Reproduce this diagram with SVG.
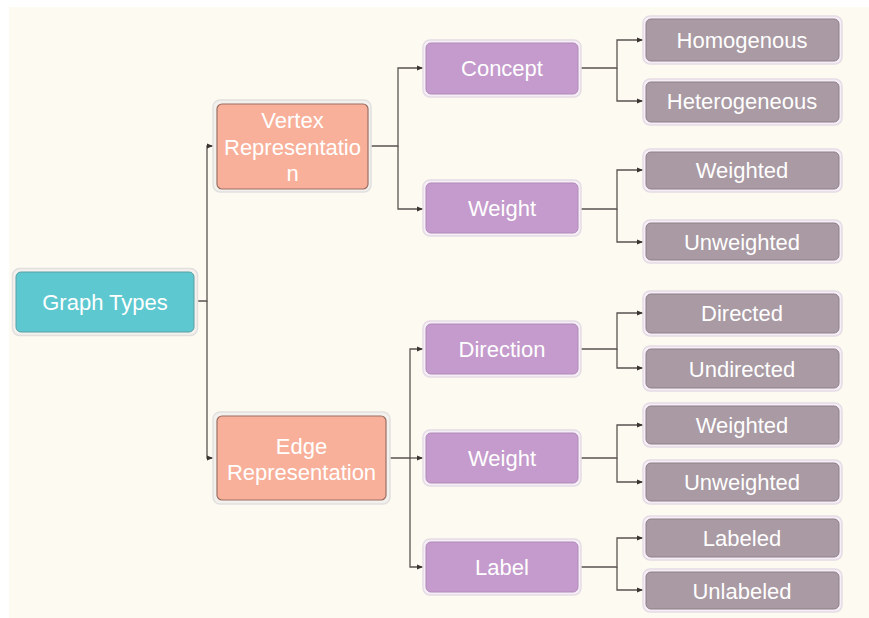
<svg xmlns="http://www.w3.org/2000/svg" width="869" height="618" viewBox="0 0 869 618">
<defs>
<style>
.halo{fill:#f3f1ee;stroke:#e2dfdf;stroke-width:1.5}
.haloP{fill:#f6eef6;stroke:#e6dce6;stroke-width:1.5}
.root{fill:#5dc8d0;stroke:#5a9fa4;stroke-width:1}
.l1{fill:#f8b09a;stroke:#9b6e62;stroke-width:1.2}
.l2{fill:#c49bcc;stroke:#b08ab8;stroke-width:1}
.l3{fill:#a99aa3;stroke:#8e7f88;stroke-width:1}
.t{font-family:"Liberation Sans",Arial,sans-serif;font-size:22px;fill:#ffffff;text-anchor:middle}
.c{fill:none;stroke:#5a5350;stroke-width:1.3}
</style>
<marker id="ah" viewBox="0 0 10 10" refX="10" refY="5" markerWidth="6" markerHeight="6" orient="auto" markerUnits="userSpaceOnUse">
<path d="M0,1 L10,5 L0,9 Z" fill="#3a3330"/>
</marker>
</defs>
<rect x="0" y="0" width="869" height="618" fill="#ffffff"/>
<rect x="9" y="7" width="860" height="611" fill="#fdfbf1"/>

<g id="connectors">
<path class="c" d="M194,301 H207 V146 H213" marker-end="url(#ah)"/>
<path class="c" d="M207,301 V458 H213" marker-end="url(#ah)"/>
<path class="c" d="M368,146 H398 V68 H423" marker-end="url(#ah)"/>
<path class="c" d="M398,146 V209 H423" marker-end="url(#ah)"/>
<path class="c" d="M578,68 H617 V40 H643" marker-end="url(#ah)"/>
<path class="c" d="M617,68 V101 H643" marker-end="url(#ah)"/>
<path class="c" d="M578,209 H617 V170 H643" marker-end="url(#ah)"/>
<path class="c" d="M617,209 V242 H643" marker-end="url(#ah)"/>
<path class="c" d="M386,458 H410 V349 H423" marker-end="url(#ah)"/>
<path class="c" d="M410,458 H423" marker-end="url(#ah)"/>
<path class="c" d="M410,458 V567 H423" marker-end="url(#ah)"/>
<path class="c" d="M578,349 H617 V313 H643" marker-end="url(#ah)"/>
<path class="c" d="M617,349 V368 H643" marker-end="url(#ah)"/>
<path class="c" d="M578,458 H617 V425 H643" marker-end="url(#ah)"/>
<path class="c" d="M617,458 V482 H643" marker-end="url(#ah)"/>
<path class="c" d="M578,567 H617 V538 H643" marker-end="url(#ah)"/>
<path class="c" d="M617,567 V590 H643" marker-end="url(#ah)"/>
</g>

<g id="graph-types">
<rect class="halo" x="12.5" y="268.5" width="185" height="67" rx="7"/>
<rect class="root" x="16" y="272" width="178" height="60" rx="5"/>
<text class="t" x="105" y="310">Graph Types</text>
</g>

<g id="vertex-representation">
<rect class="halo" x="213" y="100" width="158" height="92" rx="7"/>
<rect class="l1" x="217" y="104" width="151" height="85" rx="5"/>
<text class="t" x="292.5" y="128">Vertex</text>
<text class="t" x="292.5" y="155">Representatio</text>
<text class="t" x="292.5" y="181">n</text>
</g>

<g id="edge-representation">
<rect class="halo" x="213" y="412" width="177" height="92" rx="7"/>
<rect class="l1" x="217" y="416" width="169" height="84" rx="5"/>
<text class="t" x="301.5" y="454">Edge</text>
<text class="t" x="301.5" y="480">Representation</text>
</g>

<g id="concept">
<rect class="haloP" x="423" y="40" width="158" height="57" rx="7"/>
<rect class="l2" x="426" y="43" width="152" height="51" rx="5"/>
<text class="t" x="502" y="76">Concept</text>
</g>

<g id="vertex-weight">
<rect class="haloP" x="423" y="180" width="158" height="56" rx="7"/>
<rect class="l2" x="426" y="183" width="152" height="50" rx="5"/>
<text class="t" x="502" y="216">Weight</text>
</g>

<g id="direction">
<rect class="haloP" x="423" y="321" width="158" height="56" rx="7"/>
<rect class="l2" x="426" y="324" width="152" height="50" rx="5"/>
<text class="t" x="502" y="357">Direction</text>
</g>

<g id="edge-weight">
<rect class="haloP" x="423" y="430" width="158" height="56" rx="7"/>
<rect class="l2" x="426" y="433" width="152" height="50" rx="5"/>
<text class="t" x="502" y="466">Weight</text>
</g>

<g id="label">
<rect class="haloP" x="423" y="539" width="158" height="56" rx="7"/>
<rect class="l2" x="426" y="542" width="152" height="50" rx="5"/>
<text class="t" x="502" y="575">Label</text>
</g>

<g id="homogenous">
<rect class="haloP" x="643" y="16" width="199" height="48" rx="7"/>
<rect class="l3" x="646" y="19" width="193" height="42" rx="5"/>
<text class="t" x="742" y="48">Homogenous</text>
</g>

<g id="heterogeneous">
<rect class="haloP" x="643" y="79" width="199" height="46" rx="7"/>
<rect class="l3" x="646" y="82" width="193" height="40" rx="5"/>
<text class="t" x="742" y="109">Heterogeneous</text>
</g>

<g id="vertex-weighted">
<rect class="haloP" x="643" y="149" width="199" height="43" rx="7"/>
<rect class="l3" x="646" y="152" width="193" height="37" rx="5"/>
<text class="t" x="742" y="178">Weighted</text>
</g>

<g id="vertex-unweighted">
<rect class="haloP" x="643" y="220" width="199" height="43" rx="7"/>
<rect class="l3" x="646" y="223" width="193" height="37" rx="5"/>
<text class="t" x="742" y="250">Unweighted</text>
</g>

<g id="directed">
<rect class="haloP" x="643" y="291" width="199" height="45" rx="7"/>
<rect class="l3" x="646" y="294" width="193" height="39" rx="5"/>
<text class="t" x="742" y="321">Directed</text>
</g>

<g id="undirected">
<rect class="haloP" x="643" y="346" width="199" height="45" rx="7"/>
<rect class="l3" x="646" y="349" width="193" height="39" rx="5"/>
<text class="t" x="742" y="377">Undirected</text>
</g>

<g id="edge-weighted">
<rect class="haloP" x="643" y="403" width="199" height="44" rx="7"/>
<rect class="l3" x="646" y="406" width="193" height="38" rx="5"/>
<text class="t" x="742" y="433">Weighted</text>
</g>

<g id="edge-unweighted">
<rect class="haloP" x="643" y="460" width="199" height="44" rx="7"/>
<rect class="l3" x="646" y="463" width="193" height="38" rx="5"/>
<text class="t" x="742" y="490">Unweighted</text>
</g>

<g id="labeled">
<rect class="haloP" x="643" y="516" width="199" height="44" rx="7"/>
<rect class="l3" x="646" y="519" width="193" height="38" rx="5"/>
<text class="t" x="742" y="546">Labeled</text>
</g>

<g id="unlabeled">
<rect class="haloP" x="643" y="569" width="199" height="43" rx="7"/>
<rect class="l3" x="646" y="572" width="193" height="37" rx="5"/>
<text class="t" x="742" y="599">Unlabeled</text>
</g>
</svg>
